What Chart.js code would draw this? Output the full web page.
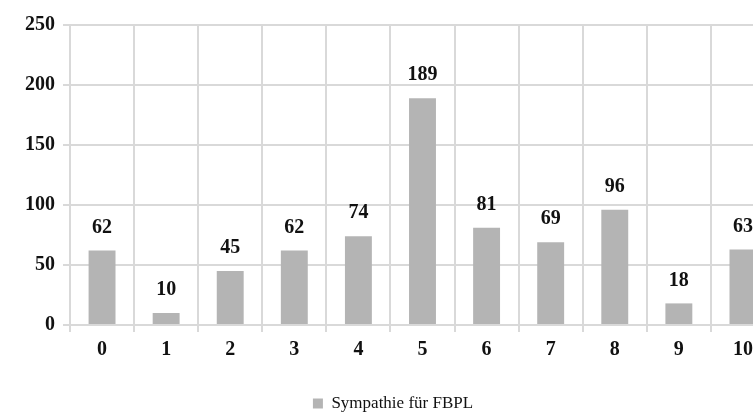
<!DOCTYPE html>
<html>
<head>
<meta charset="utf-8">
<script src="https://cdn.jsdelivr.net/npm/chart.js@4/dist/chart.umd.min.js"></script>
<style>
  html, body { margin: 0; padding: 0; background: #fff; overflow: hidden; }
  #wrap { width: 786px; height: 414px; }
</style>
</head>
<body>
<div id="wrap"><canvas id="chart" width="786" height="414"></canvas></div>
<script>
// Daten
const categories = ['0', '1', '2', '3', '4', '5', '6', '7', '8', '9', '10'];
const sympathieWerte = [62, 10, 45, 62, 74, 189, 81, 69, 96, 18, 63];
const seriesLabel = 'Sympathie für FBPL';
const yTicks = [0, 50, 100, 150, 200, 250];

const serif = "'Liberation Serif', 'Times New Roman', serif";
const gridColor = '#d9d9d9';

// Werte über den Balken zeichnen
const valueLabels = {
  id: 'valueLabels',
  afterDatasetsDraw(chart) {
    const ctx = chart.ctx;
    const meta = chart.getDatasetMeta(0);
    ctx.save();
    ctx.font = 'bold 20px ' + serif;
    ctx.fillStyle = '#111';
    ctx.textAlign = 'center';
    ctx.textBaseline = 'middle';
    meta.data.forEach((bar, i) => {
      ctx.fillText(String(chart.data.datasets[0].data[i]), bar.x, bar.y - 23);
    });
    ctx.restore();
  }
};

new Chart(document.getElementById('chart').getContext('2d'), {
  type: 'bar',
  data: {
    labels: categories,
    datasets: [{
      label: seriesLabel,
      data: sympathieWerte,
      backgroundColor: '#b4b4b4',
      barPercentage: 0.42,
      categoryPercentage: 1
    }]
  },
  options: {
    responsive: false,
    animation: false,
    layout: { padding: { top: 25, left: 0, right: 0, bottom: -8 } },
    plugins: {
      legend: {
        position: 'bottom',
        labels: {
          font: { family: serif, size: 17 },
          color: '#111',
          boxWidth: 10,
          boxHeight: 10,
          padding: 0
        }
      },
      tooltip: { enabled: false }
    },
    scales: {
      x: {
        grid: { color: gridColor, lineWidth: 2, tickLength: 7, offset: true },
        border: { color: gridColor, width: 2 },
        ticks: { font: { family: serif, size: 20, weight: 'bold' }, color: '#111', padding: 6 },
        afterFit(scale) { scale.height = 70; }
      },
      y: {
        min: 0,
        max: 250,
        afterBuildTicks(scale) { scale.ticks = yTicks.map(v => ({ value: v })); },
        grid: { color: gridColor, lineWidth: 2, tickLength: 7 },
        border: { color: gridColor, width: 2 },
        ticks: { font: { family: serif, size: 20, weight: 'bold' }, color: '#111', padding: 8 },
        afterFit(scale) { scale.width = 70; }
      },
      // leerer Rand rechts, damit die Legende über die volle Breite zentriert bleibt
      rand: {
        position: 'right',
        min: 0,
        max: 250,
        grid: { display: false, drawTicks: false },
        border: { display: false },
        ticks: { display: false },
        afterFit(scale) { scale.width = 11; }
      }
    }
  },
  plugins: [valueLabels]
});
</script>
</body>
</html>
